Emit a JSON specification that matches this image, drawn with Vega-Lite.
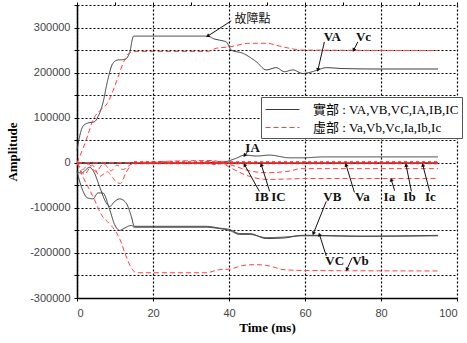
{
  "$schema": "https://vega.github.io/schema/vega-lite/v6.json",
  "autosize": {"type": "none"},
  "padding": {"left": 77, "top": 5, "right": 10, "bottom": 45},
  "width": 380,
  "height": 293,
  "background": "white",
  "view": {"stroke": null},
  "config": {
    "axis": {
      "labelFont": "Liberation Sans", "labelFontSize": 11, "labelColor": "#444",
      "titleFont": "Liberation Serif", "titleFontSize": 13, "titleFontWeight": "bold", "titleColor": "#000",
      "domainColor": "#000", "domainWidth": 1.5, "tickColor": "#000", "tickSize": 3,
      "gridColor": "#000", "gridDash": [2, 2], "gridWidth": 1.2, "gridOpacity": 1
    }
  },
  "datasets": {
    "lines": [
      {"s":"VA","p":"R","t":0,"v":28000},{"s":"VA","p":"R","t":0.6,"v":55000},{"s":"VA","p":"R","t":1.5,"v":80000},{"s":"VA","p":"R","t":2.8,"v":88000},{"s":"VA","p":"R","t":4.6,"v":91000},{"s":"VA","p":"R","t":5.5,"v":102000},{"s":"VA","p":"R","t":6.8,"v":132000},{"s":"VA","p":"R","t":8.1,"v":184000},{"s":"VA","p":"R","t":9.4,"v":220000},{"s":"VA","p":"R","t":10.7,"v":228000},{"s":"VA","p":"R","t":12.5,"v":229000},{"s":"VA","p":"R","t":13.8,"v":243000},{"s":"VA","p":"R","t":14.9,"v":281000},{"s":"VA","p":"R","t":34.4,"v":281000},{"s":"VA","p":"R","t":36,"v":275000},{"s":"VA","p":"R","t":37.5,"v":272000},{"s":"VA","p":"R","t":39.3,"v":268000},{"s":"VA","p":"R","t":40.6,"v":250000},{"s":"VA","p":"R","t":43.6,"v":243000},{"s":"VA","p":"R","t":47.2,"v":224000},{"s":"VA","p":"R","t":49.8,"v":206000},{"s":"VA","p":"R","t":52.4,"v":211000},{"s":"VA","p":"R","t":54.6,"v":202000},{"s":"VA","p":"R","t":56.8,"v":206000},{"s":"VA","p":"R","t":59.4,"v":198000},{"s":"VA","p":"R","t":61,"v":200000},{"s":"VA","p":"R","t":63.4,"v":206000},{"s":"VA","p":"R","t":65.6,"v":211000},{"s":"VA","p":"R","t":70,"v":209000},{"s":"VA","p":"R","t":80,"v":208000},{"s":"VA","p":"R","t":95,"v":208000},

      {"s":"VB","p":"R","t":0,"v":-19000},{"s":"VB","p":"R","t":1.1,"v":-23000},{"s":"VB","p":"R","t":3.3,"v":-10000},{"s":"VB","p":"R","t":4.6,"v":-23000},{"s":"VB","p":"R","t":5.9,"v":-52000},{"s":"VB","p":"R","t":7.7,"v":-89000},{"s":"VB","p":"R","t":8.6,"v":-97000},{"s":"VB","p":"R","t":9.9,"v":-86000},{"s":"VB","p":"R","t":11.2,"v":-80000},{"s":"VB","p":"R","t":12.9,"v":-89000},{"s":"VB","p":"R","t":14.3,"v":-119000},{"s":"VB","p":"R","t":15.1,"v":-141000},{"s":"VB","p":"R","t":34,"v":-141000},{"s":"VB","p":"R","t":37.5,"v":-145000},{"s":"VB","p":"R","t":40.1,"v":-148000},{"s":"VB","p":"R","t":42.8,"v":-157000},{"s":"VB","p":"R","t":45.4,"v":-157000},{"s":"VB","p":"R","t":49.8,"v":-168000},{"s":"VB","p":"R","t":54.2,"v":-167000},{"s":"VB","p":"R","t":59.4,"v":-161000},{"s":"VB","p":"R","t":62,"v":-161000},{"s":"VB","p":"R","t":75,"v":-163000},{"s":"VB","p":"R","t":95,"v":-161000},

      {"s":"VC","p":"R","t":0,"v":-19000},{"s":"VC","p":"R","t":1.1,"v":-52000},{"s":"VC","p":"R","t":2.8,"v":-78000},{"s":"VC","p":"R","t":4.2,"v":-80000},{"s":"VC","p":"R","t":5.5,"v":-67000},{"s":"VC","p":"R","t":6.8,"v":-67000},{"s":"VC","p":"R","t":8.6,"v":-104000},{"s":"VC","p":"R","t":9.9,"v":-137000},{"s":"VC","p":"R","t":11.2,"v":-150000},{"s":"VC","p":"R","t":12.5,"v":-145000},{"s":"VC","p":"R","t":14.3,"v":-139000},{"s":"VC","p":"R","t":15.1,"v":-143000},{"s":"VC","p":"R","t":34,"v":-143000},{"s":"VC","p":"R","t":37.5,"v":-146000},{"s":"VC","p":"R","t":40.1,"v":-150000},{"s":"VC","p":"R","t":42.8,"v":-159000},{"s":"VC","p":"R","t":45.4,"v":-159000},{"s":"VC","p":"R","t":49.8,"v":-166000},{"s":"VC","p":"R","t":54.2,"v":-165000},{"s":"VC","p":"R","t":59.4,"v":-162000},{"s":"VC","p":"R","t":62,"v":-162000},{"s":"VC","p":"R","t":75,"v":-163000},{"s":"VC","p":"R","t":95,"v":-162000},

      {"s":"IA","p":"R","t":0,"v":0},{"s":"IA","p":"R","t":15,"v":0},{"s":"IA","p":"R","t":38,"v":1000},{"s":"IA","p":"R","t":41.9,"v":10000},{"s":"IA","p":"R","t":44.1,"v":17000},{"s":"IA","p":"R","t":47.2,"v":15000},{"s":"IA","p":"R","t":50.7,"v":17000},{"s":"IA","p":"R","t":55.9,"v":11000},{"s":"IA","p":"R","t":59.4,"v":11000},{"s":"IA","p":"R","t":65,"v":13000},{"s":"IA","p":"R","t":95,"v":13000},
      {"s":"IB","p":"R","t":0,"v":0},{"s":"IB","p":"R","t":95,"v":0},
      {"s":"IC","p":"R","t":0,"v":-1000},{"s":"IC","p":"R","t":95,"v":-1000},

      {"s":"Vc","p":"I","t":0,"v":0},{"s":"Vc","p":"I","t":1.5,"v":30000},{"s":"Vc","p":"I","t":2.8,"v":60000},{"s":"Vc","p":"I","t":4.2,"v":95000},{"s":"Vc","p":"I","t":5.9,"v":115000},{"s":"Vc","p":"I","t":8,"v":132000},{"s":"Vc","p":"I","t":9.5,"v":160000},{"s":"Vc","p":"I","t":11,"v":195000},{"s":"Vc","p":"I","t":12.5,"v":228000},{"s":"Vc","p":"I","t":13.5,"v":242000},{"s":"Vc","p":"I","t":15,"v":247000},{"s":"Vc","p":"I","t":34.4,"v":247000},{"s":"Vc","p":"I","t":36.6,"v":254000},{"s":"Vc","p":"I","t":40.1,"v":257000},{"s":"Vc","p":"I","t":45.4,"v":265000},{"s":"Vc","p":"I","t":49.8,"v":265000},{"s":"Vc","p":"I","t":54.2,"v":257000},{"s":"Vc","p":"I","t":59.4,"v":250000},{"s":"Vc","p":"I","t":95,"v":249000},

      {"s":"Vb","p":"I","t":0,"v":0},{"s":"Vb","p":"I","t":1.5,"v":-30000},{"s":"Vb","p":"I","t":3,"v":-55000},{"s":"Vb","p":"I","t":4.6,"v":-82000},{"s":"Vb","p":"I","t":6.4,"v":-115000},{"s":"Vb","p":"I","t":8.5,"v":-135000},{"s":"Vb","p":"I","t":10,"v":-150000},{"s":"Vb","p":"I","t":11.6,"v":-176000},{"s":"Vb","p":"I","t":12.8,"v":-205000},{"s":"Vb","p":"I","t":14.3,"v":-233000},{"s":"Vb","p":"I","t":15.6,"v":-244000},{"s":"Vb","p":"I","t":34,"v":-244000},{"s":"Vb","p":"I","t":37.5,"v":-237000},{"s":"Vb","p":"I","t":40.1,"v":-236000},{"s":"Vb","p":"I","t":43.6,"v":-228000},{"s":"Vb","p":"I","t":47.2,"v":-226000},{"s":"Vb","p":"I","t":50.7,"v":-229000},{"s":"Vb","p":"I","t":54.2,"v":-237000},{"s":"Vb","p":"I","t":59.4,"v":-239000},{"s":"Vb","p":"I","t":95,"v":-240000},

      {"s":"Va","p":"I","t":0,"v":0},{"s":"Va","p":"I","t":15,"v":0},{"s":"Va","p":"I","t":95,"v":0},

      {"s":"Ia","p":"I","t":0,"v":0},{"s":"Ia","p":"I","t":2,"v":-25000},{"s":"Ia","p":"I","t":4,"v":-5000},{"s":"Ia","p":"I","t":6,"v":-30000},{"s":"Ia","p":"I","t":8,"v":-20000},{"s":"Ia","p":"I","t":9.5,"v":-35000},{"s":"Ia","p":"I","t":11.4,"v":-46000},{"s":"Ia","p":"I","t":13,"v":-20000},{"s":"Ia","p":"I","t":15,"v":0},{"s":"Ia","p":"I","t":34,"v":0},{"s":"Ia","p":"I","t":36,"v":-3000},{"s":"Ia","p":"I","t":38,"v":-2000},{"s":"Ia","p":"I","t":40.6,"v":-12000},{"s":"Ia","p":"I","t":44,"v":-26000},{"s":"Ia","p":"I","t":50.2,"v":-37000},{"s":"Ia","p":"I","t":55.5,"v":-36000},{"s":"Ia","p":"I","t":60,"v":-35000},{"s":"Ia","p":"I","t":95,"v":-35000},

      {"s":"Ib","p":"I","t":0,"v":0},{"s":"Ib","p":"I","t":1.5,"v":-15000},{"s":"Ib","p":"I","t":3,"v":-3000},{"s":"Ib","p":"I","t":5,"v":-20000},{"s":"Ib","p":"I","t":7,"v":-2000},{"s":"Ib","p":"I","t":9,"v":-18000},{"s":"Ib","p":"I","t":10.5,"v":-5000},{"s":"Ib","p":"I","t":12,"v":-15000},{"s":"Ib","p":"I","t":15,"v":0},{"s":"Ib","p":"I","t":36,"v":5000},{"s":"Ib","p":"I","t":38,"v":0},{"s":"Ib","p":"I","t":41,"v":-6000},{"s":"Ib","p":"I","t":45,"v":-17000},{"s":"Ib","p":"I","t":50,"v":-22000},{"s":"Ib","p":"I","t":55.5,"v":-19000},{"s":"Ib","p":"I","t":59,"v":-13000},{"s":"Ib","p":"I","t":65,"v":-13000},{"s":"Ib","p":"I","t":95,"v":-13000},

      {"s":"Ic","p":"I","t":0,"v":0},{"s":"Ic","p":"I","t":33,"v":0},{"s":"Ic","p":"I","t":34.5,"v":4000},{"s":"Ic","p":"I","t":36,"v":-4000},{"s":"Ic","p":"I","t":38,"v":3000},{"s":"Ic","p":"I","t":40,"v":0},{"s":"Ic","p":"I","t":95,"v":0}
    ],
    "ann": [
      {"label":"故障點","t":46.2,"v":318000,"k":"c"},
      {"label":"VA","t":67.2,"v":279000,"k":"l"},
      {"label":"Vc","t":75.4,"v":279000,"k":"l"},
      {"label":"IA","t":46.2,"v":33000,"k":"l"},
      {"label":"IB","t":48.6,"v":-75000,"k":"l"},
      {"label":"IC","t":53,"v":-75000,"k":"l"},
      {"label":"Va","t":75.1,"v":-75000,"k":"l"},
      {"label":"Ia","t":82.2,"v":-75000,"k":"l"},
      {"label":"Ib","t":87.5,"v":-75000,"k":"l"},
      {"label":"Ic","t":93,"v":-75000,"k":"l"},
      {"label":"VB","t":67.2,"v":-77000,"k":"l"},
      {"label":"VC","t":67.8,"v":-219000,"k":"l"},
      {"label":"Vb","t":74.6,"v":-219000,"k":"l"}
    ],
    "arr": [
      {"a":"故障點","t":40.6,"v":314800,"t2":34.4,"v2":281000},
      {"a":"VA","t":65.1,"v":268000,"t2":63.4,"v2":206000},
      {"a":"Vc","t":73.9,"v":268000,"t2":72.8,"v2":250000},
      {"a":"IA","t":44.9,"v":25000,"t2":44.1,"v2":16000},
      {"a":"IB","t":48.0,"v":-63500,"t2":44.1,"v2":-4400},
      {"a":"IC","t":50.7,"v":-63500,"t2":48.5,"v2":-4400},
      {"a":"Va","t":73.0,"v":-65700,"t2":70.8,"v2":-4400},
      {"a":"Ia","t":83.6,"v":-62000,"t2":82.7,"v2":-37600},
      {"a":"Ib","t":88.0,"v":-63500,"t2":86.6,"v2":-5000},
      {"a":"Ic","t":92.8,"v":-63500,"t2":91.0,"v2":-5000},
      {"a":"VB","t":65.6,"v":-85600,"t2":62.2,"v2":-157000},
      {"a":"VC","t":65.6,"v":-207000,"t2":63.8,"v2":-159000},
      {"a":"Vb","t":72.4,"v":-211000,"t2":71.0,"v2":-237000}
    ]
  },
  "resolve": {"axis": {"x": "independent", "y": "independent"}},
  "layer": [
    {
      "encoding": {
        "x": {"field": "t", "type": "quantitative", "title": "Time (ms)",
          "scale": {"domain": [0, 100], "nice": false, "zero": false},
          "axis": {"values": [0, 20, 40, 60, 80, 100], "grid": true, "labelPadding": 6, "titlePadding": 3}},
        "y": {"field": "v", "type": "quantitative", "title": "Amplitude",
          "scale": {"domain": [-300000, 350000], "nice": false, "zero": false},
          "axis": {"values": [-300000,-250000,-200000,-150000,-100000,-50000,0,50000,100000,150000,200000,250000,300000,350000],
            "labelExpr": "(datum.value % 100000 === 0 && datum.value < 350000) ? (datum.value < 0 ? '-' + format(-datum.value, 'd') : format(datum.value, 'd')) : ''",
            "grid": true, "labelPadding": 4, "titlePadding": 10}}
      },
      "layer": [
        {
          "data": {"name": "lines"},
          "mark": {"type": "line", "strokeWidth": 1, "interpolate": "monotone"},
          "encoding": {
            "color": {"field": "p", "type": "nominal",
              "scale": {"domain": ["R", "I"], "range": ["#3a3a3a", "#ff4040"]},
              "legend": {"orient": "none", "legendX": 184, "legendY": 92, "direction": "vertical", "title": null,
                "labelExpr": "datum.label === 'R' ? '實部 : VA,VB,VC,IA,IB,IC' : '虛部 : Va,Vb,Vc,Ia,Ib,Ic'",
                "labelFont": "Liberation Serif, Noto Sans CJK TC", "labelFontSize": 13, "labelColor": "#000",
                "symbolType": "M-2,0H2", "symbolSize": 289, "symbolStrokeWidth": 1.2, "symbolOffset": 9,
                "strokeColor": "#555", "fillColor": "white", "padding": 3, "rowPadding": 1, "labelOffset": 21}},
            "strokeDash": {"field": "p", "type": "nominal",
              "scale": {"domain": ["R", "I"], "range": [[1, 0], [5, 3]]}},
            "detail": {"field": "s"}
          }
        },
        {
          "data": {"name": "lines"},
          "transform": [{"filter": "datum.s === 'Va' && datum.t >= 15"}],
          "mark": {"type": "line", "color": "#ff2020", "strokeWidth": 3, "strokeDash": [3, 3]}
        },
        {
          "data": {"name": "arr"},
          "mark": {"type": "rule", "color": "#111", "strokeWidth": 1},
          "encoding": {
            "x2": {"field": "t2"},
            "y2": {"field": "v2"}
          }
        },
        {
          "data": {"name": "arr"},
          "transform": [
            {"calculate": "atan2((datum.t2 - datum.t) * 3.8, (datum.v2 - datum.v) * 293 / 650000) * 180 / PI", "as": "ang"},
            {"calculate": "datum.t2", "as": "t"},
            {"calculate": "datum.v2", "as": "v"}
          ],
          "mark": {"type": "point", "shape": "triangle-up", "filled": true, "color": "#111", "size": 18, "opacity": 1},
          "encoding": {
            "angle": {"field": "ang", "type": "quantitative", "scale": null}
          }
        },
        {
          "data": {"name": "ann"},
          "transform": [{"filter": "datum.k === 'l'"}],
          "mark": {"type": "text", "font": "Liberation Serif", "fontWeight": "bold", "fontSize": 13, "color": "#111", "align": "center", "baseline": "middle"},
          "encoding": {
            "text": {"field": "label"}
          }
        },
        {
          "data": {"name": "ann"},
          "transform": [{"filter": "datum.k === 'c'"}],
          "mark": {"type": "text", "font": "Noto Sans CJK TC", "fontSize": 12, "color": "#111", "align": "center", "baseline": "middle"},
          "encoding": {
            "text": {"field": "label"}
          }
        }
      ]
    },
    {
      "data": {"name": "lines"},
      "mark": {"type": "point", "opacity": 0},
      "encoding": {
        "x": {"field": "t", "type": "quantitative",
          "axis": {"values": [0,10,20,30,40,50,60,70,80,90,100], "labels": false, "grid": false, "domain": false, "title": null, "ticks": true}},
        "y": {"field": "v", "type": "quantitative", "axis": null}
      }
    }
  ]
}
